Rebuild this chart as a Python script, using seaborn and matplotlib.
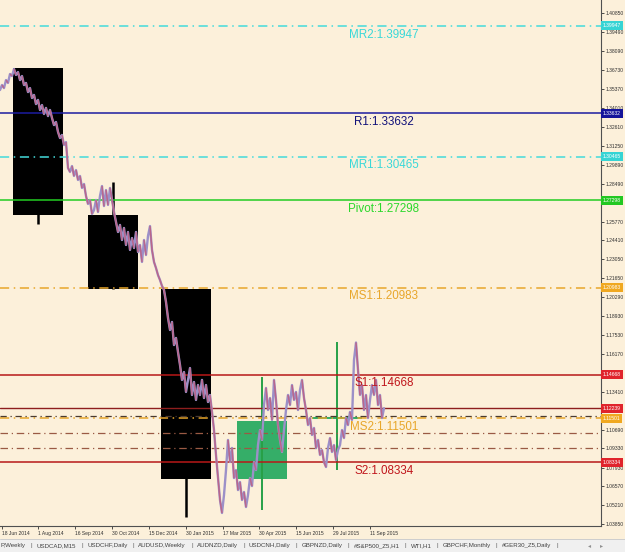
import matplotlib
matplotlib.use("Agg")
import matplotlib.pyplot as plt
import matplotlib.transforms as mtransforms
from matplotlib.patches import Rectangle
from matplotlib.collections import LineCollection
import seaborn as sns
import pandas as pd

# ---------------- data ----------------
price = [1.3530, 1.3566, 1.3544, 1.3602, 1.3581, 1.3646, 1.3631, 1.3682, 1.3639, 1.3660,
         1.3602, 1.3631, 1.3566, 1.3581, 1.3515, 1.3544, 1.3472, 1.3494, 1.3428, 1.3458,
         1.3385, 1.3421, 1.3356, 1.3400, 1.3341, 1.3385, 1.3327, 1.3276, 1.3298, 1.3226,
         1.3182, 1.3204, 1.3131, 1.3153, 1.2965, 1.2936, 1.2979, 1.2907, 1.2950, 1.2878,
         1.2907, 1.2820, 1.2849, 1.2762, 1.2704, 1.2733, 1.2631, 1.2660, 1.2733, 1.2646,
         1.2762, 1.2834, 1.2689, 1.2805, 1.2697, 1.2820, 1.2733, 1.2646, 1.2573, 1.2501,
         1.2552, 1.2443, 1.2530, 1.2407, 1.2501, 1.2371, 1.2457, 1.2385, 1.2501, 1.2356,
         1.2407, 1.2284, 1.2443, 1.2334, 1.2472, 1.2544, 1.2371, 1.2284, 1.2240, 1.2189,
         1.2153, 1.2110, 1.2081, 1.1994, 1.1878, 1.1791, 1.1849, 1.1682, 1.1733, 1.1631,
         1.1537, 1.1429, 1.1486, 1.1342, 1.1429, 1.1515, 1.1320, 1.1414, 1.1284, 1.1392,
         1.1320, 1.1429, 1.1298, 1.1392, 1.1269, 1.1320, 1.1197, 1.1066, 1.0885, 1.0718,
         1.0559, 1.0465, 1.0595, 1.0776, 1.0994, 1.0834, 1.0936, 1.0718, 1.0776, 1.0631,
         1.0689, 1.0559, 1.0617, 1.0508, 1.0595, 1.0718, 1.0660, 1.0834, 1.0776, 1.0957,
         1.1066, 1.0994, 1.1247, 1.1371, 1.1211, 1.1298, 1.1139, 1.1429, 1.1284, 1.1102,
         1.0994, 1.0907, 1.1066, 1.1211, 1.1320, 1.1247, 1.1392, 1.1284, 1.1342, 1.1211,
         1.1356, 1.1429, 1.1298, 1.1211, 1.1102, 1.1153, 1.1030, 1.1081, 1.0936, 1.0994,
         1.0885, 1.0921, 1.0834, 1.0798, 1.0936, 1.1008, 1.0907, 1.0957, 1.0849, 1.0921,
         1.0957, 1.1066, 1.1008, 1.1153, 1.1102, 1.1197, 1.1139, 1.1573, 1.1700, 1.1501,
         1.1320, 1.1392, 1.1211, 1.1320, 1.1153, 1.1284, 1.1392, 1.1320, 1.1429, 1.1247,
         1.1320, 1.1153, 1.1224]
bar = list(range(0, 2 * len(price), 2))

level_names = ["MR2", "R1", "MR1", "Pivot", "MS1", "S1", "MS2", "S2"]
level_values = [1.39947, 1.33632, 1.30465, 1.27298, 1.20983, 1.14668, 1.11501, 1.08334]
level_kind = ["MR", "R", "MR", "P", "MS", "S", "MS", "S"]

current_price = 1.12239
extra_levels = [1.1165, 1.1044, 1.0936]

# quarterly candles (bar index of the quarter centre)
q_bar = [38, 113, 186, 262, 337]
q_open = [1.3689, 1.2624, 1.2088, 1.0711, 1.1148]
q_close = [1.2624, 1.2088, 1.0711, 1.1131, 1.1153]
q_high = [1.3689, 1.2863, 1.2088, 1.1450, 1.1704]
q_low = [1.2559, 1.2088, 1.0436, 1.0486, 1.0776]

y_ticks = [1.40850, 1.39490, 1.38090, 1.36730, 1.35370, 1.34010, 1.32610, 1.31250,
           1.29890, 1.28490, 1.25770, 1.24410, 1.23050, 1.21650, 1.20290, 1.18930,
           1.17530, 1.16170, 1.13410, 1.10690, 1.09330, 1.07930, 1.06570, 1.05210, 1.03850]

date_pos = [2, 38, 75, 112, 149, 186, 223, 259, 296, 333, 370]
date_labels = ["18 Jun 2014", "1 Aug 2014", "16 Sep 2014", "30 Oct 2014", "15 Dec 2014",
               "30 Jan 2015", "17 Mar 2015", "30 Apr 2015", "15 Jun 2015", "29 Jul 2015",
               "11 Sep 2015"]

tabs = ["P,Weekly", "USDCAD,M15", "USDCHF,Daily", "AUDUSD,Weekly", "AUDNZD,Daily",
        "USDCNH,Daily", "GBPNZD,Daily", "#S&P500_Z5,H1", "WTI,H1", "GBPCHF,Monthly",
        "#GER30_Z5,Daily"]

# ---------------- style ----------------
sns.set_style("white")
plt.rcParams["font.family"] = ["Liberation Sans", "DejaVu Sans"]

BG = "#FCF0DA"
line_col = {"MR": "#44DADA", "R": "#1C1CA0", "P": "#22CC22", "MS": "#E8A62A", "S": "#B81818"}
text_col = {"MR": "#3AD8D8", "R": "#12127A", "P": "#2CD82C", "MS": "#E8A62A", "S": "#C0161C"}
box_col = {"MR": "#36D4D4", "R": "#14149A", "P": "#22C822", "MS": "#F0A820", "S": "#E0242C"}
line_ls = {"MR": (0, (6, 3, 1, 3)), "R": "-", "P": "-", "MS": (0, (6, 3, 1, 3)), "S": "-"}

W, H = 625, 552
fig = plt.figure(figsize=(W / 100, H / 100), dpi=100)
fig.patch.set_facecolor(BG)
ax = fig.add_axes([0, 26 / H, 601 / W, 526 / H])
ax.set_facecolor(BG)

ax.set_xlim(0, 601)
ax.set_ylim(1.03705, 1.41821)

# quarterly candles
for xb, o, c, hi, lo in zip(q_bar, q_open, q_close, q_high, q_low):
    bull = c >= o
    body_col = "#35AE68" if bull else "black"
    wick_col = "#27A047" if bull else "black"
    bottom = min(o, c)
    height = max(abs(c - o), 0.0015)
    ax.add_patch(Rectangle((xb - 25, bottom), 50, height, facecolor=body_col,
                           edgecolor="none", zorder=1))
    ax.vlines(xb, lo, hi, color=wick_col, lw=1.8 if not bull else 1.4, zorder=1.5)

# pivot levels
for name, v, k in zip(level_names, level_values, level_kind):
    ax.axhline(v, color=line_col[k], ls=line_ls[k], lw=1.1, zorder=3)
    off = mtransforms.offset_copy(ax.transData, fig=fig, x=0, y=-2.0, units="points")
    ax.text(384, v, f"{name}:{v:.5f}", transform=off, ha="center", va="top",
            fontsize=8.4, color=text_col[k], zorder=6)
    ax.text(1.003, v, f"{v:.5f}", transform=ax.get_yaxis_transform(), ha="left",
            va="center", fontsize=3.6, color="white", clip_on=False, zorder=10,
            bbox=dict(boxstyle="square,pad=0.4", fc=box_col[k], ec="none"))

# other levels
ax.axhline(current_price, color="#8E1E1E", lw=1.0, zorder=3)
ax.text(1.003, current_price, f"{current_price:.5f}", transform=ax.get_yaxis_transform(),
        ha="left", va="center", fontsize=3.6, color="white", clip_on=False, zorder=10,
        bbox=dict(boxstyle="square,pad=0.4", fc="#E0242C", ec="none"))
ax.axhline(extra_levels[0], color="#4A3A30", ls=(0, (5, 3, 1, 3)), lw=0.9, zorder=3)
for v in extra_levels[1:]:
    ax.axhline(v, color="#9A5A44", ls=(0, (6, 3, 1, 3)), lw=0.9, zorder=3)

# price line
df = pd.DataFrame({"bar": bar, "price": price})
sns.lineplot(data=df, x="bar", y="price", ax=ax, color="#9C90C8", lw=1.7, zorder=5)
segs = [[(bar[i], price[i]), (bar[i + 1], price[i + 1])]
        for i in range(len(price) - 1) if price[i + 1] < price[i]]
ax.add_collection(LineCollection(segs, colors="#C25C7C", linewidths=1.1, alpha=0.8, zorder=5.5))

# axes
ax.set_xlabel("")
ax.set_ylabel("")
for s in ["left", "top"]:
    ax.spines[s].set_visible(False)
for s in ["right", "bottom"]:
    ax.spines[s].set_color("#505050")
    ax.spines[s].set_linewidth(0.8)

ax.yaxis.tick_right()
ax.set_yticks(y_ticks)
ax.set_yticklabels([f"{t:.5f}" for t in y_ticks])
ax.tick_params(axis="y", right=True, left=False, labelsize=3.6, length=2, width=0.6,
               pad=1.2, colors="#303030", direction="out")
ax.set_xticks(date_pos)
ax.set_xticklabels(date_labels)
for lab in ax.get_xticklabels():
    lab.set_horizontalalignment("left")
ax.tick_params(axis="x", bottom=True, labelsize=3.6, length=2, width=0.6, pad=1.5,
               colors="#303030", direction="out")

# tab bar
fig.patches.append(Rectangle((0, 0), 1, 13 / H, transform=fig.transFigure,
                             facecolor="#F0F0F0", edgecolor="none", zorder=0))
fig.lines.append(plt.Line2D([0, 1], [13 / H, 13 / H], transform=fig.transFigure,
                            color="#C8C8C8", lw=0.6))
fig.canvas.draw()
renderer = fig.canvas.get_renderer()
xpos = 0.5
ty = 6 / H
for t in tabs:
    txt = fig.text(xpos / W, ty, t, fontsize=4.4, color="#404040", va="center", ha="left")
    bb = txt.get_window_extent(renderer)
    xpos = bb.x1 + 5
    fig.text(xpos / W, ty, "|", fontsize=4.4, color="#606060", va="center", ha="left")
    xpos += 6
fig.text(588 / W, ty, "◂", fontsize=4.4, color="#909090", va="center", ha="left",
         family="DejaVu Sans")
fig.text(600 / W, ty, "▸", fontsize=4.4, color="#909090", va="center", ha="left",
         family="DejaVu Sans")

fig.savefig("out.png", dpi=100, facecolor=BG)
